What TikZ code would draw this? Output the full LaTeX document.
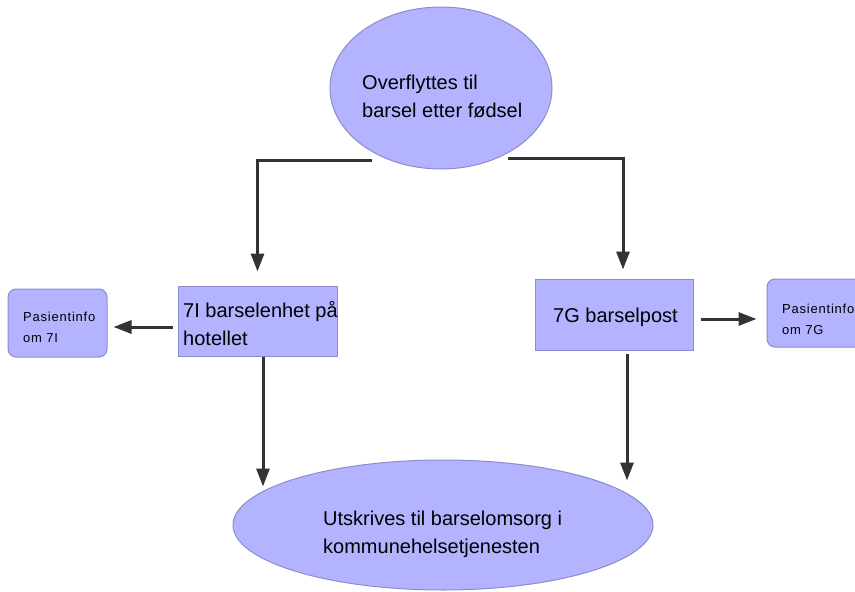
\documentclass[tikz,border=0pt]{standalone}
\usepackage{fontspec}
\setmainfont{Liberation Sans}
\usetikzlibrary{shapes.geometric,arrows.meta}
\definecolor{fillc}{RGB}{179,179,255}
\definecolor{edgec}{RGB}{140,140,205}
\definecolor{arrc}{RGB}{51,51,51}
\begin{document}
\begin{tikzpicture}[x=1pt,y=-1pt,
  oval/.style={ellipse,draw=edgec,fill=fillc,line width=1pt,inner sep=0pt},
  box/.style={rectangle,draw=edgec,fill=fillc,line width=1pt,inner sep=0pt},
  infobox/.style={box,rounded corners=8pt},
  bigtxt/.style={inner sep=0pt,anchor=base west,align=left,font=\fontsize{20}{28}\selectfont},
  smalltxt/.style={inner sep=0pt,anchor=base west,align=left,font=\fontsize{13}{21}\selectfont\addfontfeature{LetterSpace=6}},
  arr/.style={draw=arrc,line width=3pt,-{Triangle[length=18pt,width=13pt]}}]
\useasboundingbox (0,0) rectangle (855,592);
\clip (0,0) rectangle (855,592);

% shapes
\node[oval,minimum width=222pt,minimum height=162pt] (top) at (441,88) {};
\node[oval,minimum width=420pt,minimum height=130pt] (bot) at (443,525) {};
\node[box,minimum width=159pt,minimum height=70pt] (lbox) at (257.5,321) {};
\node[box,minimum width=158pt,minimum height=71pt] (rbox) at (614,314.5) {};
\node[infobox,minimum width=99pt,minimum height=68pt] (lsmall) at (57.5,323) {};
\node[infobox,minimum width=100pt,minimum height=68pt] (rsmall) at (817,313) {};

% texts (base anchor = baseline of the last line)
\node[bigtxt] (toptxt) at (362,117) {Overflyttes til\\barsel etter fødsel};
\node[bigtxt] (bottxt) at (323,553) {Utskrives til barselomsorg i\\kommunehelsetjenesten};
\node[bigtxt] (ltxt) at (183,345) {7I barselenhet på\\hotellet};
\node[bigtxt] (rtxt) at (553,322) {7G barselpost};
\node[smalltxt] (lstxt) at (23,342) {Pasientinfo\\om 7I};
\node[smalltxt] (rstxt) at (782,334) {Pasientinfo\\om 7G};

% connectors
\draw[arr] ([xshift=-69pt,yshift=9pt]top.south) -| ([yshift=14pt]lbox.north);
\draw[arr] ([xshift=67pt,yshift=11pt]top.south) -| ([xshift=9pt,yshift=9pt]rbox.north);
\draw[arr] ([xshift=-5pt,yshift=-6pt]lbox.west) -- ([xshift=6pt,yshift=-4pt]lsmall.east);
\draw[arr] ([xshift=7pt,yshift=-4.5pt]rbox.east) -- ([xshift=-10pt,yshift=-6pt]rsmall.west);
\draw[arr] ([xshift=5.5pt]lbox.south) -- ++(0,130);
\draw[arr] ([xshift=13pt,yshift=-3pt]rbox.south) -- ++(0,127);
\end{tikzpicture}
\end{document}
